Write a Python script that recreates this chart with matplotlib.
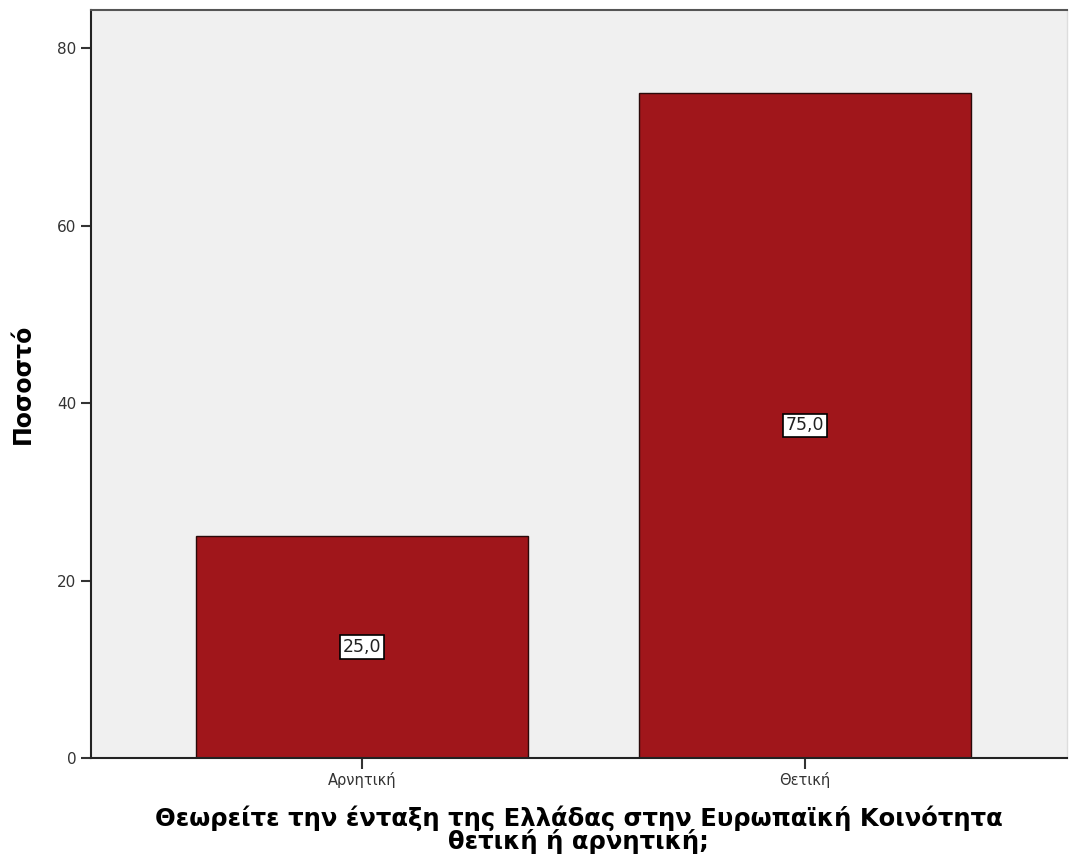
import matplotlib.pyplot as plt
import numpy as np

# data
categories = ['Αρνητική', 'Θετική']
values = [25.0, 75.0]
value_labels = ['25,0', '75,0']
y_ticks = [0, 20, 40, 60, 80]

fig = plt.figure(figsize=(10.69, 8.65), dpi=100)
ax = fig.add_axes([0.0851, 0.1237, 0.9129, 0.8647])
ax.set_facecolor('#f0f0f0')

x = np.arange(len(categories))
ax.bar(x, values, width=0.75, color='#a0161b', edgecolor='#2a0a0a', linewidth=1.0, zorder=2)

# value labels in boxes at the middle of each bar
for xi, v, lab in zip(x, values, value_labels):
    ax.text(xi, v / 2, lab, ha='center', va='center', fontsize=12.5, color='#222222',
            bbox=dict(boxstyle='square,pad=0.15', facecolor='white', edgecolor='black', linewidth=1.2),
            zorder=3)

ax.set_xlim(-0.612, 1.591)
ax.set_ylim(0, 84.3)
ax.set_xticks(x)
ax.set_xticklabels(categories, fontsize=10.5, color='#333333')
ax.set_yticks(y_ticks)
ax.set_yticklabels([str(t) for t in y_ticks], fontsize=11, color='#333333')
ax.tick_params(axis='y', direction='out', length=7.5, width=1.5, color='#333333', pad=3)
ax.tick_params(axis='x', direction='out', length=8, width=1.5, color='#333333', pad=2)

for side in ['left', 'bottom']:
    ax.spines[side].set_linewidth(1.5)
    ax.spines[side].set_color('#222222')
ax.spines['top'].set_color('#555555')
ax.spines['top'].set_linewidth(1.5)
ax.spines['right'].set_color('#dddddd')
ax.spines['right'].set_linewidth(1.0)

ax.set_ylabel('Ποσοστό', fontsize=17, fontweight='bold', labelpad=16)
ax.set_xlabel('Θεωρείτε την ένταξη της Ελλάδας στην Ευρωπαϊκή Κοινότητα\nθετική ή αρνητική;',
              fontsize=17.5, fontweight='bold', linespacing=0.9, labelpad=13)

fig.savefig('out.png', dpi=100)
